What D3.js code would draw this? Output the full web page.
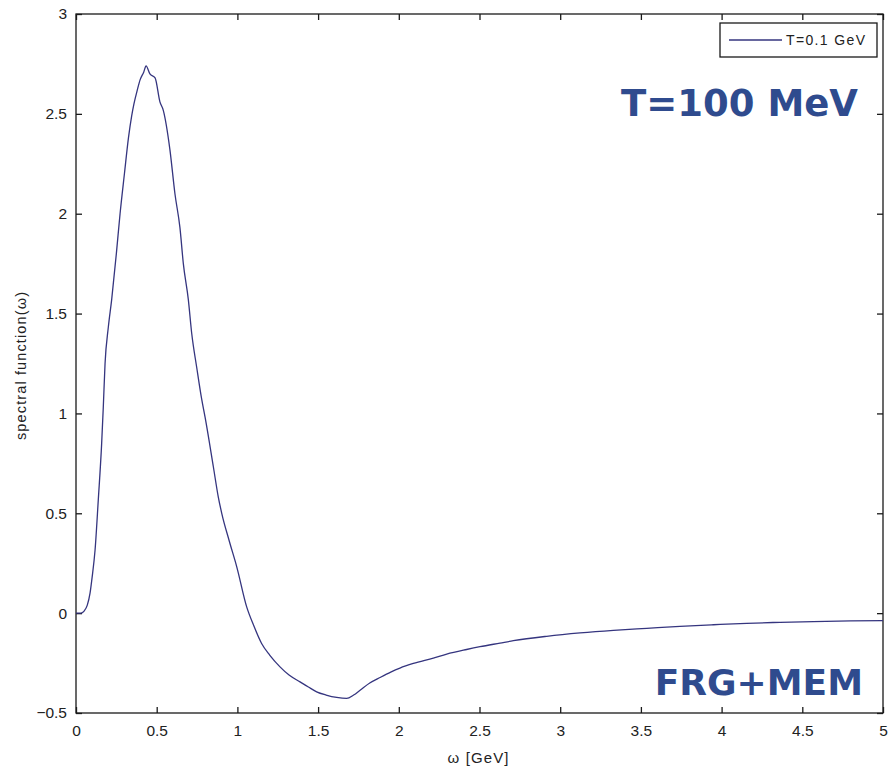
<!DOCTYPE html>
<html>
<head>
<meta charset="utf-8">
<script src="https://cdn.jsdelivr.net/npm/d3@7"></script>
<style>
  html, body { margin: 0; padding: 0; background: #fff; }
  svg { display: block; }
</style>
</head>
<body>
<svg id="chart" width="892" height="769"></svg>
<script>
// ---- data ----
const omega = [0, 0.03, 0.05, 0.07, 0.087, 0.10, 0.118, 0.138, 0.159, 0.169, 0.18, 0.20, 0.221, 0.25, 0.273, 0.30, 0.325, 0.345, 0.359, 0.38, 0.397, 0.42, 0.434, 0.458, 0.49, 0.52, 0.54, 0.582, 0.613, 0.644, 0.665, 0.696, 0.717, 0.748, 0.779, 0.80, 0.851, 0.882, 0.903, 0.95, 0.996, 1.058, 1.10, 1.15, 1.20, 1.264, 1.32, 1.388, 1.44, 1.491, 1.55, 1.615, 1.677, 1.72, 1.76, 1.82, 1.884, 1.95, 2.007, 2.09, 2.214, 2.297, 2.42, 2.503, 2.627, 2.71, 2.916, 3.123, 3.33, 3.536, 3.742, 3.949, 4.155, 4.362, 4.568, 4.8, 5.0];
const spectral = [0, 0.0, 0.01, 0.04, 0.10, 0.18, 0.315, 0.566, 0.85, 1.03, 1.25, 1.43, 1.57, 1.80, 2.00, 2.20, 2.38, 2.49, 2.55, 2.62, 2.67, 2.71, 2.74, 2.70, 2.68, 2.56, 2.52, 2.32, 2.10, 1.93, 1.75, 1.57, 1.40, 1.23, 1.07, 0.98, 0.733, 0.58, 0.50, 0.36, 0.232, 0.03, -0.06, -0.152, -0.21, -0.269, -0.31, -0.344, -0.37, -0.394, -0.41, -0.422, -0.427, -0.41, -0.386, -0.35, -0.322, -0.295, -0.275, -0.252, -0.225, -0.205, -0.182, -0.168, -0.150, -0.138, -0.116, -0.099, -0.086, -0.076, -0.066, -0.058, -0.051, -0.046, -0.042, -0.039, -0.037];
const xTicks = [0, 0.5, 1, 1.5, 2, 2.5, 3, 3.5, 4, 4.5, 5];
const yTicks = [-0.5, 0, 0.5, 1, 1.5, 2, 2.5, 3];
const legendLabel = "T=0.1 GeV";
const xLabel = "ω [GeV]";
const yLabel = "spectral function(ω)";
const annotTop = "T=100 MeV";
const annotBottom = "FRG+MEM";

// ---- layout ----
const L = 76, R = 883, T = 14, B = 713;
const svg = d3.select("#chart");
const x = d3.scaleLinear().domain([0, 5]).range([L, R]);
const y = d3.scaleLinear().domain([-0.5, 3]).range([B, T]);
const tickFont = "Liberation Sans, Arial, sans-serif";
const axisColor = "#1a1a1a";
const tickLen = 6;

// frame
svg.append("rect").attr("x", L).attr("y", T).attr("width", R - L).attr("height", B - T)
  .attr("fill", "none").attr("stroke", axisColor).attr("stroke-width", 1.3);

// axes with inward ticks
const fmt = d => d3.format("")(d);
const gB = svg.append("g").attr("transform", `translate(0,${B})`)
  .call(d3.axisBottom(x).tickValues(xTicks).tickSize(-tickLen).tickPadding(12).tickFormat(fmt));
const gT = svg.append("g").attr("transform", `translate(0,${T})`)
  .call(d3.axisTop(x).tickValues(xTicks).tickSize(-tickLen).tickFormat(""));
const gL = svg.append("g").attr("transform", `translate(${L},0)`)
  .call(d3.axisLeft(y).tickValues(yTicks).tickSize(-tickLen).tickPadding(9).tickFormat(fmt));
const gR = svg.append("g").attr("transform", `translate(${R},0)`)
  .call(d3.axisRight(y).tickValues(yTicks).tickSize(-tickLen).tickFormat(""));
[gB, gT, gL, gR].forEach(g => {
  g.select(".domain").remove();
  g.selectAll(".tick line").attr("stroke", axisColor).attr("stroke-width", 1.3);
  g.selectAll(".tick text").attr("fill", "#222").attr("font-family", tickFont).attr("font-size", 15.5);
});

// curve
const line = d3.line().x((d, i) => x(omega[i])).y(d => y(d)).curve(d3.curveMonotoneX);
svg.append("path").datum(spectral).attr("d", line)
  .attr("fill", "none").attr("stroke", "#35357f").attr("stroke-width", 1.3);

// axis labels
svg.append("text").attr("x", 478).attr("y", 763).attr("text-anchor", "middle")
  .attr("font-family", tickFont).attr("font-size", 15).attr("fill", "#222")
  .attr("textLength", 61).text(xLabel);
svg.append("text").attr("transform", "translate(26,366) rotate(-90)").attr("text-anchor", "middle")
  .attr("font-family", tickFont).attr("font-size", 14.5).attr("fill", "#222")
  .attr("textLength", 148).text(yLabel);

// legend
const lg = svg.append("g");
lg.append("rect").attr("x", 720).attr("y", 23).attr("width", 157).attr("height", 34)
  .attr("fill", "#fff").attr("stroke", axisColor).attr("stroke-width", 1.3);
lg.append("line").attr("x1", 729).attr("x2", 782).attr("y1", 40).attr("y2", 40)
  .attr("stroke", "#35357f").attr("stroke-width", 1.3);
lg.append("text").attr("x", 786).attr("y", 45).attr("font-family", tickFont)
  .attr("font-size", 14).attr("fill", "#222").attr("textLength", 79).text(legendLabel);

// annotations
const annColor = "#2f4b8e";
svg.append("text").attr("x", 858).attr("y", 116).attr("text-anchor", "end")
  .attr("font-family", "DejaVu Sans, Verdana, sans-serif").attr("font-weight", "bold")
  .attr("font-size", 37).attr("fill", annColor).text(annotTop);
svg.append("text").attr("x", 863).attr("y", 695).attr("text-anchor", "end")
  .attr("font-family", "DejaVu Sans, Verdana, sans-serif").attr("font-weight", "bold")
  .attr("font-size", 36).attr("fill", annColor).text(annotBottom);
</script>
</body>
</html>
